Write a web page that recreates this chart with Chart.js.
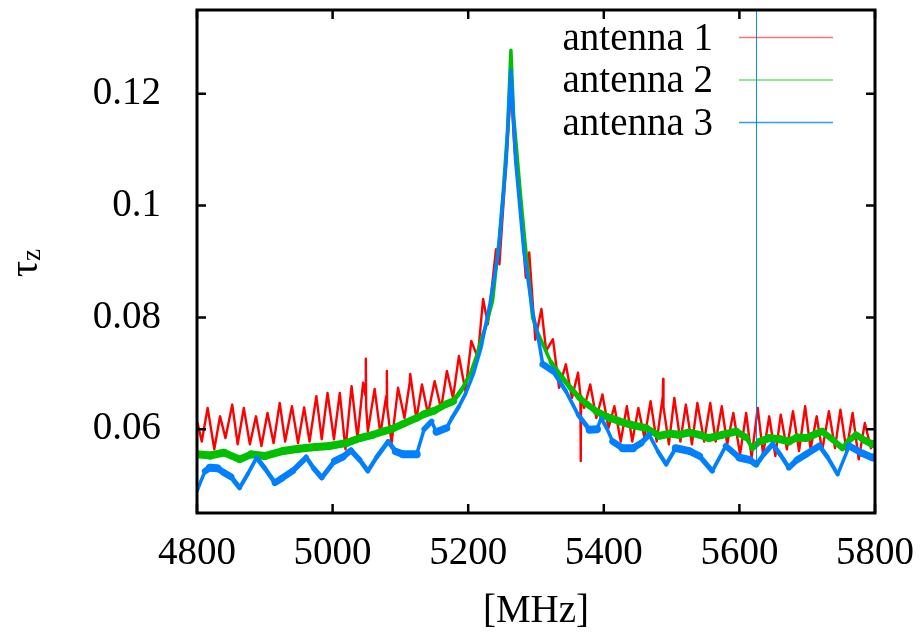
<!DOCTYPE html>
<html>
<head>
<meta charset="utf-8">
<script src="https://cdn.jsdelivr.net/npm/chart.js@4/dist/chart.umd.min.js"></script>
<style>
  html, body { margin: 0; padding: 0; background: #fff; }
  #wrap { width: 923px; height: 637px; position: relative; }
</style>
</head>
<body>
<div id="wrap"><canvas id="c"></canvas></div>
<script>
const FONT = 'Liberation Serif';
const X_TICKS = [4800, 5000, 5200, 5400, 5600, 5800];
const Y_TICKS = [0.06, 0.08, 0.1, 0.12];
const LABELS = ['antenna 1', 'antenna 2', 'antenna 3'];

// antenna 1 (red): ripple peaks/troughs, plus the odd spike
const RED_MHZ = [4801, 4807, 4815.7, 4825.5, 4834, 4842, 4852, 4860, 4869, 4878, 4887, 4895, 4904, 4913,
  4922, 4930, 4940, 4949, 4958, 4966, 4976, 4984, 4992.5, 5002, 5010.6, 5019, 5028, 5036.7, 5045, 5048.5,
  5049, 5049.5, 5052, 5062, 5070.5, 5079, 5080, 5080.5, 5087, 5096.5, 5106, 5113.7, 5114.5, 5123.6,
  5131.8, 5140.7, 5150.5, 5160, 5168.6, 5177.6, 5186.3, 5196, 5204.6, 5214, 5222, 5229, 5241, 5246, 5256,
  5263, 5268, 5278, 5285, 5290, 5299, 5308, 5315, 5325, 5334, 5344, 5353, 5362, 5365.5, 5366, 5366.5,
  5371, 5380, 5389, 5398, 5407, 5415.6, 5425, 5434, 5442, 5451, 5460, 5469, 5478, 5487, 5487.5, 5488,
  5496, 5504, 5513, 5521, 5530, 5538, 5548, 5557, 5565, 5574, 5582, 5591, 5601, 5610, 5618, 5627, 5635,
  5644, 5653, 5661, 5670, 5679, 5688, 5697, 5705, 5714, 5722, 5732, 5741, 5749, 5758, 5767, 5776, 5785,
  5794, 5800];
const RED_TAU = [0.0610, 0.0578, 0.0638, 0.0564, 0.0623, 0.0584, 0.0644, 0.0573, 0.0638, 0.0573, 0.0623,
  0.0570, 0.0629, 0.0575, 0.0647, 0.0578, 0.0641, 0.0575, 0.0639, 0.0578, 0.0659, 0.0582, 0.0665, 0.0582,
  0.0665, 0.0564, 0.0677, 0.0584, 0.0683, 0.0660, 0.0726, 0.0640, 0.0596, 0.0672, 0.0591, 0.0659, 0.0704,
  0.0640, 0.0575, 0.0674, 0.0620, 0.0683, 0.0699, 0.0618, 0.0680, 0.0627, 0.0686, 0.0636, 0.0704, 0.0656,
  0.0731, 0.0668, 0.0758, 0.0728, 0.0833, 0.0788, 0.0922, 0.0895, 0.1075, 0.1210, 0.1105, 0.0979, 0.0871,
  0.0916, 0.0760, 0.0815, 0.0740, 0.0761, 0.0674, 0.0716, 0.0656, 0.0701, 0.0660, 0.0543, 0.0660, 0.0638,
  0.0680, 0.0620, 0.0662, 0.0602, 0.0641, 0.0578, 0.0641, 0.0578, 0.0638, 0.0584, 0.0650, 0.0578, 0.0659,
  0.0690, 0.0640, 0.0573, 0.0656, 0.0578, 0.0644, 0.0573, 0.0647, 0.0578, 0.0647, 0.0578, 0.0641, 0.0573,
  0.0629, 0.0555, 0.0629, 0.0549, 0.0638, 0.0555, 0.0623, 0.0552, 0.0626, 0.0564, 0.0632, 0.0561, 0.0641,
  0.0564, 0.0623, 0.0561, 0.0632, 0.0566, 0.0635, 0.0561, 0.0629, 0.0546, 0.0611, 0.0566, 0.0580];

// antenna 2 (green)
const GREEN_MHZ = [4800, 4820, 4840, 4863, 4880, 4900, 4927, 4950, 4975, 4996, 5020, 5040, 5060, 5074,
  5087, 5105, 5124, 5135, 5150, 5168, 5178, 5190, 5203, 5212, 5220, 5227, 5236, 5246, 5252, 5258, 5263,
  5267, 5271, 5277, 5283, 5290, 5295, 5300, 5310, 5322, 5335, 5350, 5364, 5375, 5389, 5405, 5423, 5440,
  5462, 5482, 5497, 5511, 5526, 5541, 5555, 5575, 5595, 5610, 5619, 5630, 5644, 5660, 5673, 5685, 5698,
  5710, 5722, 5737, 5752, 5762, 5772, 5785, 5796, 5800];
const GREEN_TAU = [0.0555, 0.0553, 0.0558, 0.0546, 0.0555, 0.0552, 0.0561, 0.0565, 0.0568, 0.0570, 0.0575,
  0.0584, 0.0590, 0.0596, 0.0600, 0.0610, 0.0620, 0.0627, 0.0633, 0.0645, 0.0650, 0.0670, 0.0699, 0.0730,
  0.0764, 0.0788, 0.0830, 0.0943, 0.1030, 0.1135, 0.1278, 0.1160, 0.1105, 0.1020, 0.0943, 0.0860, 0.0800,
  0.0780, 0.0752, 0.0720, 0.0698, 0.0675, 0.0656, 0.0645, 0.0632, 0.0622, 0.0614, 0.0608, 0.0602, 0.0588,
  0.0592, 0.0590, 0.0594, 0.0590, 0.0584, 0.0590, 0.0596, 0.0585, 0.0566, 0.0578, 0.0584, 0.0582, 0.0578,
  0.0585, 0.0584, 0.0590, 0.0596, 0.0582, 0.0566, 0.0580, 0.0590, 0.0580, 0.0573, 0.0575];

// antenna 3 (blue), including the single spike near 5625 MHz
const BLUE_MHZ = [4800, 4805, 4812, 4819, 4830, 4840, 4850, 4863, 4875, 4888, 4900, 4915, 4925, 4941, 4956,
  4961, 4972, 4984, 5003, 5015, 5027, 5040, 5052, 5065, 5082, 5093, 5104, 5115, 5124, 5135, 5146, 5153,
  5168, 5176, 5186, 5196, 5208, 5219, 5232, 5245, 5256, 5263, 5270, 5282, 5295, 5303, 5310, 5325, 5344,
  5362, 5379, 5390, 5396, 5405, 5413, 5428, 5443, 5455, 5467, 5480, 5492, 5506, 5526, 5541, 5560, 5580,
  5600, 5615, 5624.5, 5625, 5625.5, 5636, 5649, 5660, 5673, 5685, 5698, 5718, 5730, 5745, 5762, 5781,
  5796, 5800];
const BLUE_TAU = [0.0489, 0.0505, 0.0525, 0.0531, 0.0530, 0.0522, 0.0515, 0.0495, 0.0520, 0.0549, 0.0530,
  0.0504, 0.0512, 0.0525, 0.0543, 0.0550, 0.0530, 0.0513, 0.0543, 0.0550, 0.0562, 0.0545, 0.0525, 0.0550,
  0.0578, 0.0560, 0.0555, 0.0555, 0.0555, 0.0600, 0.0614, 0.0595, 0.0602, 0.0620, 0.0640, 0.0663, 0.0700,
  0.0746, 0.0824, 0.0920, 0.1080, 0.1242, 0.1080, 0.0920, 0.0810, 0.0765, 0.0716, 0.0704, 0.0668, 0.0626,
  0.0599, 0.0600, 0.0620, 0.0600, 0.0578, 0.0566, 0.0566, 0.0575, 0.0590, 0.0560, 0.0537, 0.0566, 0.0561,
  0.0552, 0.0525, 0.0570, 0.0549, 0.0545, 0.0537, 0.2000, 0.0537, 0.0555, 0.0573, 0.0555, 0.0531, 0.0545,
  0.0555, 0.0570, 0.0550, 0.0519, 0.0570, 0.0557, 0.0549, 0.0552];

const COLORS = ['#ff0000', '#00c000', '#0080ff'];
const LEGEND_COLORS = ['rgba(255,0,0,0.55)', 'rgba(0,192,0,0.55)', 'rgba(0,128,255,0.8)'];

const pts = (xs, ys) => xs.map((x, i) => ({ x, y: ys[i] }));

// noise band keeps a constant vertical thickness, so steep parts get thinner strokes
const band = (thick, min) => (ctx) => {
  if (Math.max(ctx.p0.parsed.y, ctx.p1.parsed.y) > 0.14) return 1;
  const dx = Math.abs(ctx.p1.x - ctx.p0.x), dy = Math.abs(ctx.p1.y - ctx.p0.y);
  const len = Math.hypot(dx, dy) || 1;
  return Math.max(min, thick * dx / len);
};

function line(i, xs, ys, thick, min, order) {
  return {
    label: LABELS[i],
    data: pts(xs, ys),
    borderColor: COLORS[i],
    borderWidth: thick,
    borderCapStyle: 'round',
    borderJoinStyle: 'round',
    pointRadius: 0,
    tension: 0,
    order,
    segment: {
      borderWidth: band(thick, min),
      borderColor: (ctx) => Math.max(ctx.p0.parsed.y, ctx.p1.parsed.y) > 0.14 ? 'rgba(0,128,255,0.75)' : undefined,
    },
  };
}

const noPad = (s) => { s.paddingTop = 0; s.paddingBottom = 0; s.paddingLeft = 0; s.paddingRight = 0; };

const framePlugin = {
  id: 'frame',
  afterDraw(chart) {
    const { ctx, chartArea: a } = chart;
    const xs = chart.scales.x, ys = chart.scales.y;
    ctx.save();
    ctx.strokeStyle = '#000';
    ctx.lineWidth = 2.5;
    ctx.beginPath();
    for (const v of X_TICKS) {
      const px = xs.getPixelForValue(v);
      ctx.moveTo(px, a.bottom); ctx.lineTo(px, a.bottom - 9);
      ctx.moveTo(px, a.top); ctx.lineTo(px, a.top + 9);
    }
    for (const v of Y_TICKS) {
      const py = ys.getPixelForValue(v);
      ctx.moveTo(a.left, py); ctx.lineTo(a.left + 9, py);
      ctx.moveTo(a.right, py); ctx.lineTo(a.right - 9, py);
    }
    ctx.stroke();
    ctx.lineWidth = 3;
    ctx.strokeRect(a.left, a.top, a.right - a.left, a.bottom - a.top);

    // legend, gnuplot style: text right-aligned, sample line on the right
    ctx.font = `39px "${FONT}"`;
    ctx.fillStyle = '#000';
    ctx.textAlign = 'right';
    ctx.textBaseline = 'alphabetic';
    LABELS.forEach((t, i) => {
      const y = 37.5 + i * 42.5;
      ctx.fillText(t, 713, y + 12);
      ctx.strokeStyle = LEGEND_COLORS[i];
      ctx.lineWidth = 1.5;
      ctx.beginPath(); ctx.moveTo(739, y); ctx.lineTo(833, y); ctx.stroke();
    });

    // axis titles
    ctx.textAlign = 'center';
    ctx.textBaseline = 'middle';
    ctx.fillText('[MHz]', (a.left + a.right) / 2, 612);

    ctx.translate(37, 263);
    ctx.rotate(-Math.PI / 2);
    ctx.textAlign = 'left';
    ctx.textBaseline = 'alphabetic';
    ctx.font = `40px "${FONT}"`;
    const wt = ctx.measureText('τ').width;
    ctx.font = `27px "${FONT}"`;
    const wz = ctx.measureText('z').width;
    const x0 = -(wt + wz) / 2;
    ctx.font = `40px "${FONT}"`;
    ctx.fillText('τ', x0, 0);
    ctx.font = `27px "${FONT}"`;
    ctx.fillText('z', x0 + wt, 3);
    ctx.restore();
  },
};

const tickFont = { family: FONT, size: 39 };

new Chart(document.getElementById('c'), {
  type: 'line',
  data: {
    datasets: [
      line(0, RED_MHZ, RED_TAU, 3, 2.4, 2),
      line(1, GREEN_MHZ, GREEN_TAU, 8, 3.5, 1),
      line(2, BLUE_MHZ, BLUE_TAU, 8, 3.5, 0),
    ],
  },
  options: {
    responsive: true,
    maintainAspectRatio: false,
    animation: false,
    layout: { padding: { top: 10, right: 48, left: 0, bottom: 0 } },
    plugins: { legend: { display: false }, tooltip: { enabled: false } },
    scales: {
      x: {
        type: 'linear', min: 4800, max: 5800,
        afterBuildTicks: (s) => { s.ticks = X_TICKS.map(v => ({ value: v })); },
        afterFit: (s) => { s.height = 124; noPad(s); },
        grid: { display: false }, border: { display: false },
        ticks: { color: '#000', font: tickFont, padding: 9, maxRotation: 0, autoSkip: false, callback: v => String(v) },
      },
      y: {
        min: 0.045, max: 0.135,
        afterBuildTicks: (s) => { s.ticks = Y_TICKS.map(v => ({ value: v })); },
        afterFit: (s) => { s.width = 197; noPad(s); },
        grid: { display: false }, border: { display: false },
        ticks: { color: '#000', font: tickFont, padding: 28, autoSkip: false, callback: v => String(v) },
      },
    },
  },
  plugins: [framePlugin],
});
</script>
</body>
</html>
